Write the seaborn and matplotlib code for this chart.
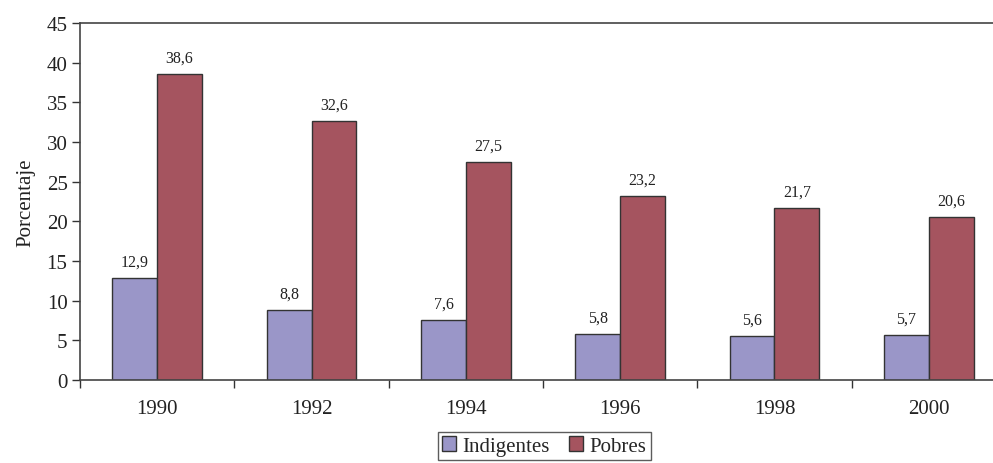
import numpy as np
import pandas as pd
import matplotlib
matplotlib.use("Agg")
import matplotlib.pyplot as plt
import seaborn as sns

years = ["1990", "1992", "1994", "1996", "1998", "2000"]
indigentes = [12.9, 8.8, 7.6, 5.8, 5.6, 5.7]
pobres = [38.6, 32.6, 27.5, 23.2, 21.7, 20.6]
series_names = ["Indigentes", "Pobres"]
colors = ["#9a96c8", "#a5545f"]

df = pd.DataFrame({
    "Año": years * 2,
    "Valor": indigentes + pobres,
    "Serie": [series_names[0]] * len(years) + [series_names[1]] * len(years),
})

sns.set_theme(style="white")
plt.rcParams["font.family"] = ["Liberation Serif", "DejaVu Serif"]

fig = plt.figure(figsize=(9.93, 4.64), dpi=100)
ax = fig.add_axes([80 / 993, 1 - 381 / 464, 926 / 993, (381 - 24) / 464])

sns.barplot(data=df, x="Año", y="Valor", hue="Serie", palette=colors,
            width=0.58, edgecolor="#333333", linewidth=1.0, saturation=1,
            ax=ax, legend=True)

for cont in ax.containers:
    ax.bar_label(cont, labels=[f"{v:.1f}".replace(".", ",") for v in cont.datavalues],
                 padding=6, fontsize=11.5, color="#222222")

ax.set_ylim(0, 45)
ax.set_xlim(-0.5, 5.5)
ax.set_yticks(np.arange(0, 46, 5))
ax.set_xticks(np.arange(-0.5, 6, 1), minor=True)
ax.tick_params(axis="x", which="major", length=0, pad=14, labelsize=15, colors="#222222")
ax.tick_params(axis="x", which="minor", length=6, width=1, direction="out", color="#333333", bottom=True)
ax.tick_params(axis="y", length=6, width=1, direction="out", color="#333333", left=True, labelsize=15, colors="#222222", pad=3)
ax.set_xlabel("")
ax.set_ylabel("Porcentaje", fontsize=15, color="#222222", labelpad=8)

for s in ["left", "bottom", "top"]:
    ax.spines[s].set_visible(True)
    ax.spines[s].set_color("#444444")
    ax.spines[s].set_linewidth(1.2)
ax.spines["right"].set_visible(False)

leg = ax.get_legend()
handles = leg.legend_handles
leg.remove()
fig.legend(handles, series_names, loc="upper center", bbox_to_anchor=(544 / 993, 1 - 433 / 464),
           ncol=2, frameon=True, fancybox=False, edgecolor="#333333", fontsize=15,
           handlelength=0.7, handleheight=0.7, handletextpad=0.3, columnspacing=0.9,
           borderpad=0.2, borderaxespad=0)
fig.legends[0].get_frame().set_linewidth(1.0)

fig.savefig("out.png", dpi=100)
